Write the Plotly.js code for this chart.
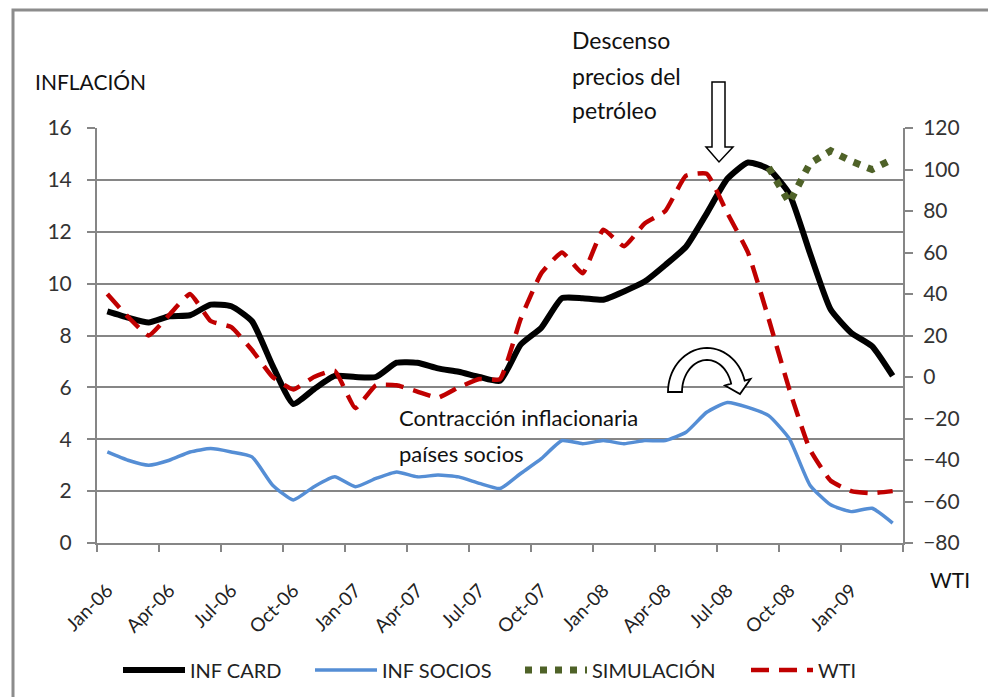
<!DOCTYPE html>
<html><head><meta charset="utf-8">
<script src="https://cdn.plot.ly/plotly-3.0.1.min.js"></script>
<style>html,body{margin:0;padding:0;background:#fff}</style>
</head><body><div id="chart" style="width:988px;height:697px"></div>
<script>
const months = ['Jan-06','Feb-06','Mar-06','Apr-06','May-06','Jun-06','Jul-06','Aug-06','Sep-06','Oct-06','Nov-06','Dec-06',
  'Jan-07','Feb-07','Mar-07','Apr-07','May-07','Jun-07','Jul-07','Aug-07','Sep-07','Oct-07','Nov-07','Dec-07',
  'Jan-08','Feb-08','Mar-08','Apr-08','May-08','Jun-08','Jul-08','Aug-08','Sep-08','Oct-08','Nov-08','Dec-08',
  'Jan-09','Feb-09','Mar-09'];
const infCard = [8.93,8.69,8.5,8.74,8.78,9.19,9.13,8.55,6.83,5.36,5.93,6.44,
  6.4,6.4,6.95,6.95,6.73,6.6,6.4,6.25,7.65,8.3,9.44,9.44,
  9.38,9.7,10.08,10.72,11.42,12.7,14.04,14.67,14.42,13.46,11.17,9.0,
  8.1,7.59,6.44];
const infSocios = [3.51,3.19,3.0,3.19,3.51,3.64,3.51,3.32,2.23,1.66,2.17,2.55,
  2.17,2.49,2.74,2.55,2.62,2.55,2.3,2.1,2.68,3.25,3.95,3.83,
  3.95,3.83,3.95,3.95,4.27,5.04,5.42,5.23,4.91,4.02,2.23,1.47,
  1.21,1.34,0.77];
const simulacion = [null,null,null,null,null,null,null,null,null,null,null,null,
  null,null,null,null,null,null,null,null,null,null,null,null,
  null,null,null,null,null,null,null,null,101,84,103,109,
  104,100,105];
const wti = [40,29,20,30,40,27,24,13,0,-6,0,3,
  -15,-4,-4,-7,-10,-5,-1,-1,28,50,60,50,
  71,63,74,80,97,98,79,60,28,-6,-35,-50,
  -55,-56,-55];
const seriesNames = ['INF CARD','INF SOCIOS','SIMULACIÓN','WTI'];
const leftTicks = [0,2,4,6,8,10,12,14,16];
const rightTicks = [-80,-60,-40,-20,0,20,40,60,80,100,120];

const FONT = 'Lato, "Open Sans", sans-serif';
const GRID = '#868686';

// plot area in pixels: x 97..903, y 128..543
const L = 97, R = 903, T = 128, B = 543;
const px = x => (x - L) / (R - L);
const py = y => (B - y) / (B - T);
const pathFrom = pts => 'M' + pts.map(p => px(p[0]).toFixed(5) + ',' + py(p[1]).toFixed(5)).join(' L') + ' Z';

// hollow down arrow
const downArrow = [[712,82],[725,82],[725,147],[733,147],[719,162],[706,147],[712,147]];
// hollow curved arrow
const ell = (cx,cy,rx,ry,d) => { const t = d*Math.PI/180; return [cx+rx*Math.cos(t), cy-ry*Math.sin(t)]; };
const curved = [];
for (let d = 180; d >= 15; d -= 5) curved.push(ell(707,392,39,44,d));
curved.push([750.5,379],[740,394],[725,385.5]);
for (let d = 15; d <= 180; d += 5) curved.push(ell(707,392,25,32,d));

const traces = [
  {x: months, y: infCard, name: seriesNames[0], type:'scatter', mode:'lines', legend:'legend',
   line:{color:'#000000', width:6, shape:'spline', smoothing:0.5}},
  {x: months, y: infSocios, name: seriesNames[1], type:'scatter', mode:'lines', legend:'legend2',
   line:{color:'#558ed5', width:3.5, shape:'spline', smoothing:0.5}},
  {x: months, y: simulacion, name: seriesNames[2], type:'scatter', mode:'lines', yaxis:'y2', legend:'legend3',
   line:{color:'#4f6228', width:7, dash:'7px,8px'}},
  {x: months, y: wti, name: seriesNames[3], type:'scatter', mode:'lines', yaxis:'y2', legend:'legend4',
   line:{color:'#c00000', width:4.5, dash:'18px,10px', shape:'spline', smoothing:0.4}}
];

const axisCommon = {ticks:'outside', tickwidth:2, tickcolor:GRID, showline:true, linecolor:GRID, linewidth:2, zeroline:false};

const ann = (text, x, y, size, anchor) => ({text, xref:'paper', yref:'paper', x:px(x), y:py(y),
  xanchor: anchor || 'left', yanchor:'middle', showarrow:false, font:{family:FONT, size, color:'#111'}});

const leg = x => ({orientation:'h', x:px(x), xanchor:'left', y:py(670), yanchor:'middle',
    font:{family:FONT, size:20, color:'#222'}, itemwidth:62, bgcolor:'rgba(0,0,0,0)'});

const layout = {
  width:988, height:697,
  margin:{l:L, r:988-R, t:T, b:697-B, autoexpand:false},
  paper_bgcolor:'#ffffff', plot_bgcolor:'#ffffff',
  font:{family:FONT, size:20, color:'#222'},
  showlegend:true,
  legend:leg(118), legend2:leg(310), legend3:leg(520), legend4:leg(746),
  xaxis:Object.assign({}, axisCommon, {type:'category', range:[-0.5,38.5], tickmode:'linear', tick0:0, dtick:3,
    tickson:'boundaries', ticklen:7, showgrid:false, tickangle:-45, ticklabelstandoff:27, tickfont:{size:19, color:'#222'}}),
  yaxis:Object.assign({}, axisCommon, {range:[0,16], tickmode:'array', tickvals:leftTicks, ticklen:8,
    showgrid:true, gridcolor:GRID, gridwidth:2, ticklabelstandoff:11, tickfont:{size:21, color:'#333'}}),
  yaxis2:Object.assign({}, axisCommon, {overlaying:'y', side:'right', range:[-80,120], tickmode:'array',
    tickvals:rightTicks, ticklen:8, showgrid:false, ticklabelstandoff:6, tickfont:{size:21, color:'#333'}}),
  annotations:[
    ann('INFLACIÓN', 33, 81, 21),
    ann('Descenso', 570, 40, 23),
    ann('precios del', 570, 76, 23),
    ann('petróleo', 570, 110, 23),
    ann('Contracción inflacionaria', 397, 417, 22),
    ann('países socios', 397, 453, 22),
    ann('WTI', 928, 579, 21)
  ],
  shapes:[
    {type:'rect', xref:'paper', yref:'paper', x0:px(13), y0:py(10), x1:px(1010), y1:py(720),
     line:{color:'#8c8c8c', width:3}, fillcolor:'rgba(0,0,0,0)'},
    {type:'path', xref:'paper', yref:'paper', path:pathFrom(downArrow), fillcolor:'#ffffff', line:{color:'#000', width:1.5}},
    {type:'path', xref:'paper', yref:'paper', path:pathFrom(curved), fillcolor:'#ffffff', line:{color:'#000', width:1.8}}
  ]
};

Plotly.newPlot('chart', traces, layout, {displayModeBar:false, staticPlot:true});
</script></body></html>
